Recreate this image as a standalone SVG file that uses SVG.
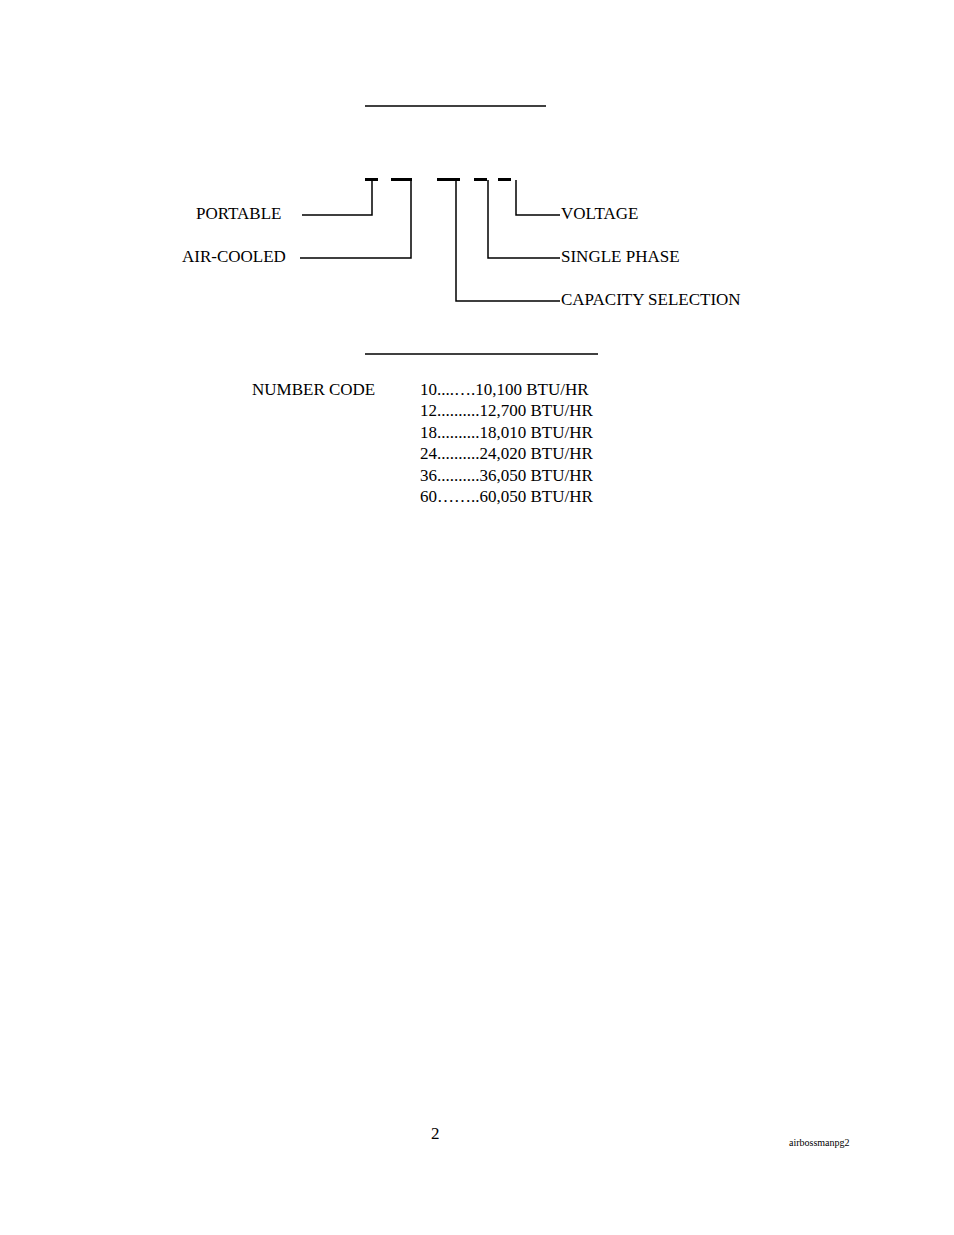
<svg xmlns="http://www.w3.org/2000/svg" width="954" height="1235" viewBox="0 0 954 1235">
<style>
text{font-family:"Liberation Serif","Times New Roman",serif;font-size:17px;fill:#000}
.l{stroke:#000;stroke-width:1.5;fill:none}
.b{stroke:#000;stroke-width:3}
</style>
<rect width="954" height="1235" fill="#fff"/>
<line class="l" x1="365" y1="106" x2="546" y2="106"/>
<line class="l" x1="365" y1="354" x2="598" y2="354"/>
<g id="code">
<line class="b" x1="365" y1="179.5" x2="378" y2="179.5"/>
<line class="b" x1="391" y1="179.5" x2="412" y2="179.5"/>
<line class="b" x1="437" y1="179.5" x2="460" y2="179.5"/>
<line class="b" x1="474" y1="179.5" x2="487" y2="179.5"/>
<line class="b" x1="498" y1="179.5" x2="511" y2="179.5"/>
</g>
<g id="connectors">
<polyline class="l" points="302,215 372,215 372,180"/>
<polyline class="l" points="300,258 411,258 411,180"/>
<polyline class="l" points="560,301 456,301 456,180"/>
<polyline class="l" points="560,258 488,258 488,180"/>
<polyline class="l" points="560,215 516,215 516,180"/>
</g>
<g id="portable"><text x="196" y="219">PORTABLE</text></g>
<g id="aircooled"><text x="182" y="262">AIR-COOLED</text></g>
<g id="voltage"><text x="561" y="219">VOLTAGE</text></g>
<g id="single"><text x="561" y="262">SINGLE PHASE</text></g>
<g id="capacity"><text x="561" y="305">CAPACITY SELECTION</text></g>
<g id="table">
<text x="252" y="395">NUMBER CODE</text>
<text x="420" y="395">10....….10,100 BTU/HR</text>
<text x="420" y="416">12..........12,700 BTU/HR</text>
<text x="420" y="438">18..........18,010 BTU/HR</text>
<text x="420" y="459">24..........24,020 BTU/HR</text>
<text x="420" y="481">36..........36,050 BTU/HR</text>
<text x="420" y="502">60……..60,050 BTU/HR</text>
</g>
<text x="431" y="1139">2</text>
<text x="789" y="1146" style="font-size:10px">airbossmanpg2</text>
</svg>
